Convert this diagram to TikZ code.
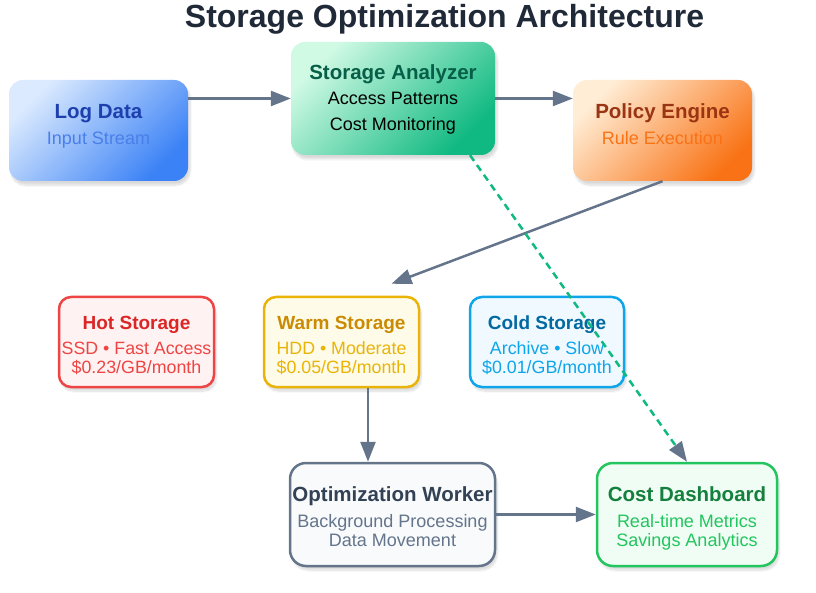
\documentclass[tikz,border=0pt]{standalone}
\usepackage{fontspec}
\setmainfont{Liberation Sans}
\usetikzlibrary{arrows.meta,shadows.blur}
\definecolor{slate}{HTML}{64748B}
\definecolor{titlec}{HTML}{1F2937}
\definecolor{logA}{HTML}{DBEAFE}\definecolor{logB}{HTML}{3B82F6}\definecolor{logT}{HTML}{1E40AF}\definecolor{logS}{HTML}{4A7FEA}
\definecolor{anaA}{HTML}{D1FAE5}\definecolor{anaB}{HTML}{10B981}\definecolor{anaT}{HTML}{065F46}
\definecolor{polA}{HTML}{FFEDD5}\definecolor{polB}{HTML}{F97316}\definecolor{polT}{HTML}{9A3412}
\definecolor{hotF}{HTML}{FEF2F2}\definecolor{hotB}{HTML}{EF4444}\definecolor{hotT}{HTML}{DC2626}
\definecolor{warmF}{HTML}{FEFCE8}\definecolor{warmB}{HTML}{EAB308}\definecolor{warmT}{HTML}{CA8A04}
\definecolor{coldF}{HTML}{F0F9FF}\definecolor{coldB}{HTML}{0EA5E9}\definecolor{coldT}{HTML}{0369A1}
\definecolor{workF}{HTML}{F8FAFC}\definecolor{workT}{HTML}{334155}
\definecolor{dashF}{HTML}{F0FDF4}\definecolor{dashB}{HTML}{22C55E}\definecolor{dashT}{HTML}{15803D}
\begin{document}
\begin{tikzpicture}[x=1pt,y=-1pt,
  shad/.style={blur shadow={shadow xshift=2pt,shadow yshift=-4pt,shadow blur steps=8,shadow opacity=15}},
  gbox/.style 2 args={shad,rounded corners=14pt,inner sep=0pt,top color=#1,bottom color=#2,shading angle=45},
  sbox/.style 2 args={shad,rounded corners=12pt,inner sep=0pt,draw=#2,line width=2.5pt,fill=#1},
  big/.style={font=\fontsize{20.5}{24}\selectfont\bfseries,anchor=base,inner sep=0pt},
  bsub/.style={font=\fontsize{18}{21}\selectfont,anchor=base,inner sep=0pt},
  small/.style={font=\fontsize{19}{22}\selectfont\bfseries,anchor=base,inner sep=0pt},
  ssub/.style={font=\fontsize{17.8}{21}\selectfont,anchor=base,inner sep=0pt},
  arr/.style={draw=slate,line width=2.5pt,-{Triangle[length=20pt,width=15pt]}},
]
\useasboundingbox (0,0) rectangle (816,593);
\node[font=\fontsize{32}{37}\selectfont\bfseries,text=titlec,anchor=base,inner sep=0pt] (title) at (444.5,28) {Storage Optimization Architecture};

% main boxes
\node[gbox={logA}{logB},minimum width=179pt,minimum height=101pt] (log) at (98.5,130.5) {};
\node[gbox={anaA}{anaB},minimum width=204pt,minimum height=113pt] (ana) at (393,98.5) {};
\node[gbox={polA}{polB},minimum width=179pt,minimum height=101pt] (pol) at (662.5,130.5) {};

\node[big,text=logT] (logt) at (98.5,118.3) {Log Data};
\node[bsub,text=logS] (logs) at (98.5,144.3) {Input Stream};
\node[big,text=anaT] (anat) at (393,80) {Storage Analyzer};
\node[bsub,text=black] (anas1) at (393,104.7) {Access Patterns};
\node[bsub,text=black] (anas2) at (393,130.7) {Cost Monitoring};
\node[big,text=polT] (polt) at (662.5,118.3) {Policy Engine};
\node[bsub,text=polB] (pols) at (662.5,144.3) {Rule Execution};

% storage tiers
\node[sbox={hotF}{hotB},minimum width=155pt,minimum height=90pt] (hot) at (136.5,342) {};
\node[sbox={warmF}{warmB},minimum width=155pt,minimum height=90pt] (warm) at (341.5,342) {};
\node[sbox={coldF}{coldB},minimum width=154pt,minimum height=90pt] (cold) at (547,342) {};

\node[small,text=hotT] (hott) at (136.5,329.3) {Hot Storage};
\node[ssub,text=hotB] (hots1) at (136.5,355) {SSD • Fast Access};
\node[ssub,text=hotB] (hots2) at (136.5,373.8) {\$0.23/GB/month};
\node[small,text=warmT] (warmt) at (341.5,329.3) {Warm Storage};
\node[ssub,text=warmB] (warms1) at (341.5,355) {HDD • Moderate};
\node[ssub,text=warmB] (warms2) at (341.5,373.8) {\$0.05/GB/month};
\node[small,text=coldT] (coldt) at (547,329.3) {Cold Storage};
\node[ssub,text=coldB] (colds1) at (547,355) {Archive • Slow};
\node[ssub,text=coldB] (colds2) at (547,373.8) {\$0.01/GB/month};

% bottom boxes
\node[sbox={workF}{slate},rounded corners=16pt,minimum width=205pt,minimum height=103pt] (work) at (392.5,514.5) {};
\node[sbox={dashF}{dashB},rounded corners=16pt,minimum width=180pt,minimum height=103pt] (dash) at (687,514.5) {};

\node[big,text=workT] (workt) at (392.5,501.7) {Optimization Worker};
\node[bsub,text=slate] (works1) at (392.5,527.7) {Background Processing};
\node[bsub,text=slate] (works2) at (392.5,546.7) {Data Movement};
\node[big,text=dashT] (dasht) at (687,501.7) {Cost Dashboard};
\node[bsub,text=dashB] (dashs1) at (687,527.7) {Real-time Metrics};
\node[bsub,text=dashB] (dashs2) at (687,546.7) {Savings Analytics};

% connectors
\draw[arr] (log.east |- ana.center) -- (ana.west);
\draw[arr] (ana.east) -- (pol.west |- ana.east);
\coordinate (warmin) at ([shift={(50,-12)}]warm.north);
\draw[arr] (pol.south) -- (warmin);
\draw[arr] ([xshift=26.5pt]warm.south) -- ([xshift=26.5pt]warm.south |- work.north);
\draw[arr] (work.east) -- (dash.west);
\draw[draw=anaB,line width=2.5pt,dash pattern=on 7pt off 5pt,-{Triangle[length=20pt,width=15pt,color=slate,sharp]}] ([xshift=77pt]ana.south) -- (dash.north);
\end{tikzpicture}
\end{document}
